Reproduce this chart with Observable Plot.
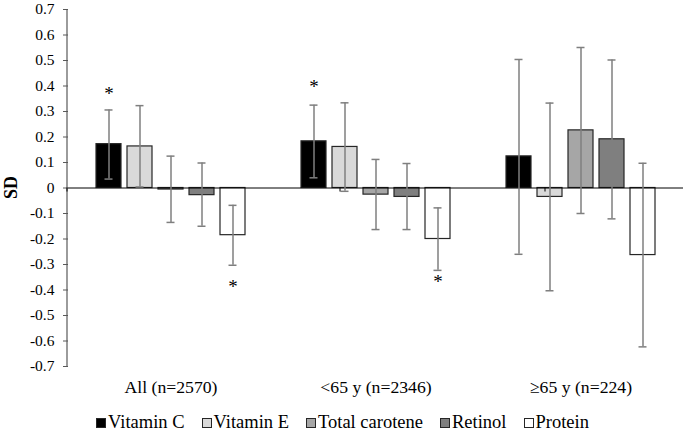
<!DOCTYPE html>
<html>
<head>
<meta charset="utf-8">
<script src="https://cdn.jsdelivr.net/npm/d3@7"></script>
<script src="https://cdn.jsdelivr.net/npm/@observablehq/plot@0.6"></script>
<style>
  body { margin: 0; background: #fff; }
  #wrap { width: 685px; font-family: 'Liberation Serif', 'Times New Roman', serif; }
  #wrap svg text { font-family: 'Liberation Serif', 'Times New Roman', serif; }
  #legend { display: flex; justify-content: center; gap: 17px; font-size: 18.5px; line-height: 20px; color: #000; margin-top: 12px; padding-left: 0px; }
  #legend .item { display: flex; align-items: center; }
  #legend .sw { width: 8px; height: 8px; border: 1px solid #262626; margin-right: 2px; margin-top: 1px; }
</style>
</head>
<body>
<div id="wrap"></div>
<script>
const groups = ["All (n=2570)", "<65 y (n=2346)", "≥65 y (n=224)"];
const series = ["Vitamin C", "Vitamin E", "Total carotene", "Retinol", "Protein"];
const colors = ["#000000", "#d9d9d9", "#a6a6a6", "#7f7f7f", "#ffffff"];
// mean SD per group (rows) and series (columns)
const means = [
  [0.172, 0.163, -0.006, -0.028, -0.185],
  [0.183, 0.161, -0.026, -0.035, -0.200],
  [0.124, -0.035, 0.226, 0.191, -0.263]
];
const lower = [
  [0.035, 0.004, -0.135, -0.150, -0.303],
  [0.040, -0.013, -0.163, -0.163, -0.323],
  [-0.260, -0.403, -0.100, -0.121, -0.623]
];
const upper = [
  [0.306, 0.323, 0.125, 0.098, -0.068],
  [0.325, 0.334, 0.112, 0.096, -0.078],
  [0.504, 0.333, 0.551, 0.502, 0.097]
];
const stars = [
  {group: "All (n=2570)", series: "Vitamin C", y: 0.368},
  {group: "All (n=2570)", series: "Protein", y: -0.389},
  {group: "<65 y (n=2346)", series: "Vitamin C", y: 0.398},
  {group: "<65 y (n=2346)", series: "Protein", y: -0.368}
];
const yTicks = [-0.7,-0.6,-0.5,-0.4,-0.3,-0.2,-0.1,0,0.1,0.2,0.3,0.4,0.5,0.6,0.7];

const data = [];
groups.forEach((g, i) => series.forEach((s, j) => {
  data.push({group: g, series: s, value: means[i][j], lo: lower[i][j], hi: upper[i][j]});
}));

const font = "'Liberation Serif', 'Times New Roman', serif";
const chart = Plot.plot({
  width: 685,
  height: 400,
  marginLeft: 67,
  marginRight: 1,
  marginTop: 9,
  marginBottom: 34,
  style: {fontFamily: font, fontSize: "15.5px", color: "#000", background: "#fff"},
  fx: {domain: groups, padding: 0, label: null},
  x: {domain: series, paddingInner: 0.2, paddingOuter: 0.85, axis: null},
  y: {domain: [-0.7, 0.7], ticks: yTicks, label: null},
  color: {domain: series, range: colors},
  marks: [
    Plot.axisY(yTicks, {tickSize: 5, tickPadding: 9, tickFormat: d => d === 0 ? "0" : d.toFixed(1), fontSize: 15.5, stroke: "#595959", fill: "#000"}),
    Plot.axisFx({anchor: "bottom", tickSize: 0, tickPadding: 14, fontSize: 17.7, label: null, fill: "#000"}),
    Plot.barY(data, {fx: "group", x: "series", y: "value", fill: "series", stroke: "#262626", strokeWidth: 1.2}),
    Plot.ruleY([0], {stroke: "#000", strokeWidth: 1}),
    Plot.ruleX(data, {fx: "group", x: "series", y1: "lo", y2: "hi", stroke: "#7f7f7f", strokeWidth: 1.5}),
    Plot.tickY(data, {fx: "group", x: "series", y: "lo", stroke: "#7f7f7f", strokeWidth: 1.5, insetLeft: 8.5, insetRight: 8.5}),
    Plot.tickY(data, {fx: "group", x: "series", y: "hi", stroke: "#7f7f7f", strokeWidth: 1.5, insetLeft: 8.5, insetRight: 8.5}),
    Plot.text(stars, {fx: "group", x: "series", y: "y", text: () => "*", fontSize: 19, fill: "#000"})
  ]
});

// y-axis line and group separator ticks, positioned via the chart's own scales
const ys = chart.scale("y");
const fxs = chart.scale("fx");
const svg = d3.select(chart);
const y0 = ys.apply(0);
const left = 67;
svg.append("line").attr("x1", left).attr("x2", left)
  .attr("y1", ys.apply(0.7)).attr("y2", ys.apply(-0.7))
  .attr("stroke", "#595959").attr("stroke-width", 1.2);
groups.forEach((g, i) => {
  const xe = fxs.apply(g) + fxs.bandwidth + left;
  if (i === 0) {
    svg.append("line").attr("x1", left).attr("x2", left).attr("y1", y0).attr("y2", y0 + 4).attr("stroke", "#000");
  }
  svg.append("line").attr("x1", xe).attr("x2", xe).attr("y1", y0).attr("y2", y0 + 4).attr("stroke", "#000");
});
// y-axis title
svg.append("text").attr("transform", `translate(17,${y0}) rotate(-90)`)
  .attr("text-anchor", "middle").attr("font-weight", "bold")
  .attr("font-family", font).attr("font-size", 18).text("SD");

const wrap = document.getElementById("wrap");
wrap.appendChild(chart);

const legend = document.createElement("div");
legend.id = "legend";
series.forEach((s, j) => {
  const item = document.createElement("div");
  item.className = "item";
  const sw = document.createElement("span");
  sw.className = "sw";
  sw.style.background = colors[j];
  item.appendChild(sw);
  item.appendChild(document.createTextNode(s));
  legend.appendChild(item);
});
wrap.appendChild(legend);
</script>
</body>
</html>
